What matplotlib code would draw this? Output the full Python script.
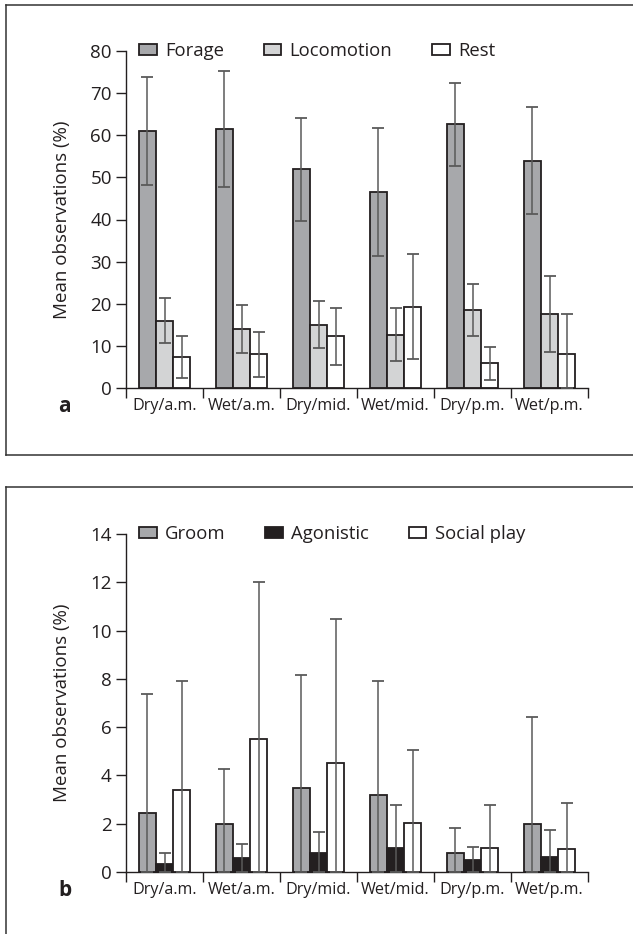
import numpy as np
import matplotlib
matplotlib.use("Agg")
import matplotlib.pyplot as plt
from matplotlib.lines import Line2D

plt.rcParams['font.family'] = ['Open Sans', 'DejaVu Sans']

categories = ["Dry/a.m.", "Wet/a.m.", "Dry/mid.", "Wet/mid.", "Dry/p.m.", "Wet/p.m."]

# Panel a
forage = [61.0, 61.5, 51.9, 46.6, 62.6, 54.0]
forage_sd = [12.8, 13.7, 12.3, 15.2, 9.9, 12.6]
locomotion = [16.0, 14.1, 15.0, 12.7, 18.6, 17.6]
locomotion_sd = [5.3, 5.7, 5.6, 6.4, 6.2, 9.1]
rest = [7.3, 8.0, 12.3, 19.3, 5.9, 8.0]
rest_sd = [5.0, 5.4, 6.8, 12.5, 3.9, 9.5]

# Panel b
groom = [2.45, 1.99, 3.47, 3.21, 0.77, 1.99]
groom_sd = [4.92, 2.27, 4.67, 4.70, 1.07, 4.44]
agonistic = [0.33, 0.57, 0.77, 1.01, 0.48, 0.64]
agonistic_sd = [0.46, 0.58, 0.90, 1.77, 0.54, 1.12]
social_play = [3.39, 5.50, 4.53, 2.02, 1.00, 0.97]
social_play_sd = [4.52, 6.50, 5.97, 3.05, 1.78, 1.89]

W, H = 633, 934
fig = plt.figure(figsize=(W / 100, H / 100), dpi=100)

DARK = "#231f20"
ERR = "#5a5a5a"


def px_ax(left, top, right, bottom):
    return fig.add_axes([left / W, 1 - bottom / H, (right - left) / W, (bottom - top) / H])


def panel(ax, series, labels, colors, ymax, ystep):
    x = np.arange(len(categories))
    bw = 0.225
    offs = [-bw, 0, bw]
    handles = []
    for (vals, sd), lab, col, off in zip(series, labels, colors, offs):
        vals = np.array(vals)
        sd = np.array(sd)
        lower = np.minimum(sd, vals)
        b = ax.bar(x + off, vals, bw, color=col, edgecolor=DARK, linewidth=1.3,
                   label=lab, zorder=2)
        handles.append(b)
        ax.errorbar(x + off, vals, yerr=[lower, sd], fmt="none", ecolor=ERR,
                    elinewidth=1.1, capsize=4.2, capthick=1.3, zorder=3)
    ax.set_xlim(-0.5, len(categories) - 0.5)
    ax.set_ylim(0, ymax)
    ax.set_yticks(np.arange(0, ymax + 0.1, ystep))
    ax.set_xticks(x)
    ax.set_xticklabels(categories, fontsize=11.6, color=DARK)
    ax.set_xticks(np.arange(-0.5, len(categories)), minor=True)
    ax.tick_params(axis="x", which="major", length=0, pad=7.5)
    ax.tick_params(axis="x", which="minor", length=7.2, width=1.0, direction="out", color=DARK)
    ax.tick_params(axis="y", length=7.2, width=1.0, direction="out", color=DARK,
                   labelsize=13.5, labelcolor=DARK, pad=3)
    for s in ["top", "right"]:
        ax.spines[s].set_visible(False)
    for s in ["left", "bottom"]:
        ax.spines[s].set_color(DARK)
        ax.spines[s].set_linewidth(1.0)
    ax.set_ylabel("Mean observations (%)", fontsize=13.5, color=DARK)
    ax.yaxis.set_label_coords(-0.119, 0.5)
    leg = ax.legend(handles=handles, ncol=3, frameon=False, fontsize=13.3,
                    loc="center left", bbox_to_anchor=(13.3 / 462, 1.0),
                    borderpad=0, borderaxespad=0, handlelength=0.95, handleheight=0.6,
                    handletextpad=0.45, columnspacing=2.15)
    for t in leg.get_texts():
        t.set_color(DARK)
    return ax


axa = px_ax(126, 51, 588, 388)
panel(axa, [(forage, forage_sd), (locomotion, locomotion_sd), (rest, rest_sd)],
      ["Forage", "Locomotion", "Rest"], ["#a7a8ab", "#d3d4d5", "#ffffff"], 80, 10)
axb = px_ax(126, 534, 588, 872)
panel(axb, [(groom, groom_sd), (agonistic, agonistic_sd), (social_play, social_play_sd)],
      ["Groom", "Agonistic", "Social play"], ["#a7a8ab", "#231f20", "#ffffff"], 14, 2)

fig.text(64.5 / W, 1 - 407 / H, "a", fontsize=15, fontweight="bold", color=DARK,
         ha="center", va="center")
fig.text(65 / W, 1 - 891 / H, "b", fontsize=15, fontweight="bold", color=DARK,
         ha="center", va="center")


def fl(x0, y0, x1, y1):
    fig.add_artist(Line2D([x0 / W, x1 / W], [1 - y0 / H, 1 - y1 / H],
                          transform=fig.transFigure, color="#333333", linewidth=1.1))


# panel frames
fl(6, 5, 640, 5)
fl(6, 455, 640, 455)
fl(6, 5, 6, 455)
fl(6, 487, 640, 487)
fl(6, 487, 6, 940)

fig.savefig("out.png", dpi=100)
